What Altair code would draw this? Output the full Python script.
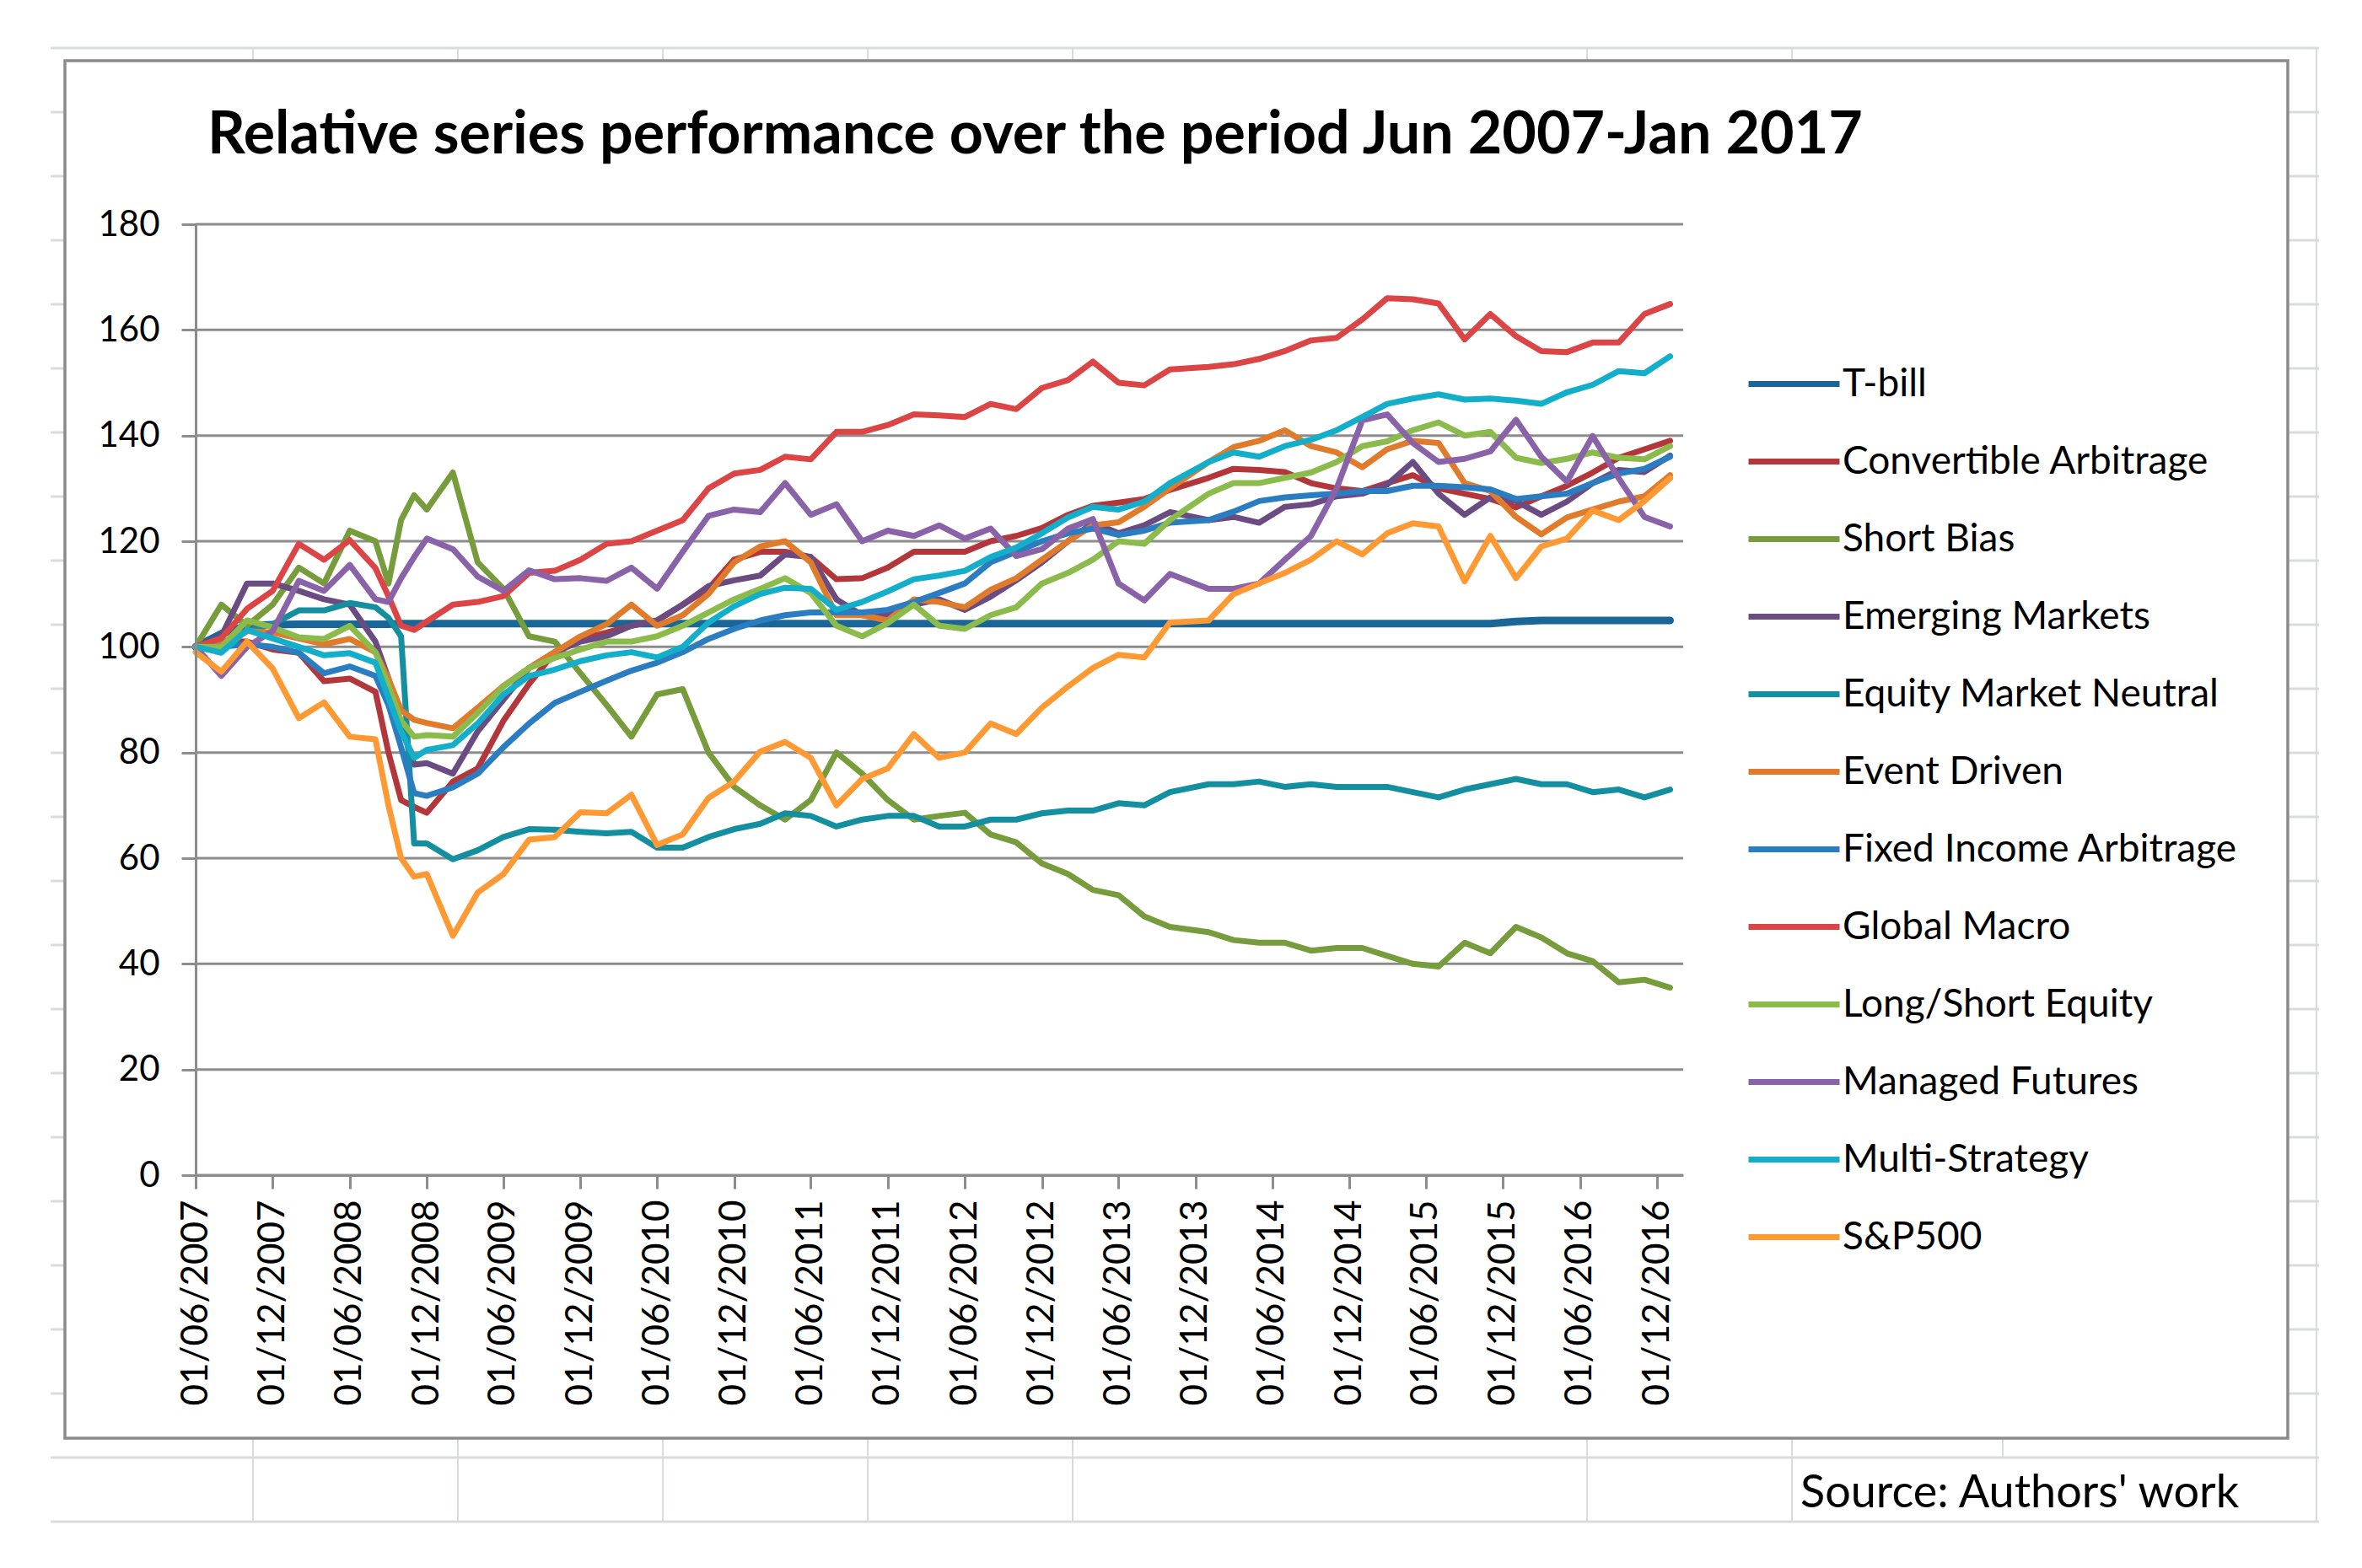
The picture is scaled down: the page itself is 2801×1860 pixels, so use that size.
import altair as alt
import pandas as pd

# ---------------- data ----------------
# month offsets since June 2007 (bi-monthly, with the Sep-Nov 2008 crash monthly)
months = [0, 2, 4, 6, 8, 10, 12, 14, 15, 16, 17, 18,
          20, 22, 24, 26, 28, 30, 32, 34, 36, 38,
          40, 42, 44, 46, 48, 50, 52, 54, 56, 58,
          60, 62, 64, 66, 68, 70, 72, 74, 76,
          79, 81, 83, 85, 87, 89, 91, 93, 95, 97, 99, 101, 103, 105, 107, 109, 111, 113, 115]

series_names = ["T-bill", "Convertible Arbitrage", "Short Bias", "Emerging Markets",
                "Equity Market Neutral", "Event Driven", "Fixed Income Arbitrage",
                "Global Macro", "Long/Short Equity", "Managed Futures",
                "Multi-Strategy", "S&P500"]

series_colors = ["#1B6699", "#B3373A", "#779C3C", "#6A4C83", "#138F9F", "#E07B2B",
                 "#2A7DC0", "#DC4545", "#8BBB4B", "#8A62A8", "#12AECA", "#FF9933"]

t_bill = [100, 102.5, 104, 104.2, 104.3, 104.3, 104.3, 104.3, 104.3, 104.4, 104.4, 104.4,
          104.4, 104.4, 104.4, 104.4, 104.4, 104.4, 104.4, 104.4, 104.4, 104.4,
          104.4, 104.4, 104.4, 104.4, 104.4, 104.4, 104.4, 104.4, 104.4, 104.4,
          104.4, 104.4, 104.4, 104.4, 104.4, 104.4, 104.4, 104.4, 104.4,
          104.4, 104.4, 104.4, 104.4, 104.4, 104.4, 104.4, 104.4, 104.4, 104.4, 104.4, 104.4,
          104.8, 105, 105, 105, 105, 105, 105]

convertible_arbitrage = [100, 101, 101, 99.5, 98.9, 93.5, 94, 91.5, 80, 71, 69.7, 68.6,
                         74.5, 77, 86, 93, 99, 101.5, 102.7, 104, 105, 108,
                         111, 116.5, 118, 118, 117, 112.8, 113, 115, 118, 118,
                         118, 120, 121, 122.5, 125, 126.7, 127.3, 128, 129.7,
                         132, 133.7, 133.5, 133.1, 131, 130, 129.5, 131, 132.5, 130, 129, 128,
                         126.4, 128.5, 130.5, 133, 135.8, 137.4, 139]

short_bias = [100, 108, 104, 108, 115, 112, 122, 120, 112, 124, 128.7, 126,
              133, 116, 111, 102, 101, 95, 89, 83, 91, 92,
              80, 73.5, 70, 67.3, 71, 80, 76, 71, 67.3, 68,
              68.6, 64.5, 63, 59, 57, 54, 53, 49, 47,
              46, 44.5, 44, 44, 42.5, 43, 43, 41.5, 40, 39.5, 44, 42,
              47, 45, 42, 40.5, 36.5, 37, 35.5]

emerging_markets = [100, 102, 112, 112, 110.6, 109, 108, 101, 94, 85, 77.7, 78,
                    76, 84, 90, 96, 99, 101, 102, 104, 105, 108,
                    111.5, 112.6, 113.5, 117.5, 117, 109, 106, 106, 108, 109,
                    107, 109.5, 112.6, 116, 120, 123.5, 121.5, 123, 125.5,
                    124, 124.6, 123.5, 126.5, 127, 128.5, 129, 130.7, 135, 129, 125, 128.3,
                    127.6, 125, 127.5, 131, 133.5, 133.1, 136.2]

equity_market_neutral = [100, 100.5, 103, 104.3, 106.9, 106.9, 108.3, 107.5, 105.5, 102, 62.8, 62.8,
                         59.8, 61.5, 64, 65.5, 65.4, 65, 64.7, 65, 62, 62,
                         64, 65.5, 66.5, 68.5, 68, 66, 67.3, 68, 68, 66,
                         66, 67.3, 67.3, 68.5, 69, 69, 70.4, 70, 72.5,
                         74, 74, 74.5, 73.5, 74, 73.5, 73.5, 73.5, 72.5, 71.5, 73, 74,
                         75, 74, 74, 72.5, 73, 71.5, 73]

event_driven = [100, 100.5, 103, 102.7, 101.6, 100.5, 101.5, 99, 94, 88, 86.2, 85.6,
                84.6, 88.5, 92.6, 96, 99, 102, 104.3, 108, 104, 106,
                110, 116, 119, 120, 116, 106, 106, 105, 109, 108.5,
                107.5, 110.8, 113, 116.5, 120, 123, 123.6, 126.5, 130,
                135, 137.8, 139, 141, 138, 136.8, 134, 137.4, 139, 138.6, 131, 129.5,
                124.6, 121.3, 124.5, 126, 127.5, 128.5, 132.5]

fixed_income_arbitrage = [100, 100, 100.5, 100, 98.9, 95, 96.3, 94.5, 89, 81, 72.3, 71.8,
                          73.4, 76, 81, 85.5, 89.4, 91.5, 93.6, 95.5, 97, 99,
                          101.5, 103.4, 105, 106, 106.5, 106.5, 106.5, 107, 108.5, 110.2,
                          112, 116, 118, 120, 121.5, 122.4, 121.2, 122, 123.5,
                          124, 125.6, 127.6, 128.3, 128.7, 129, 129.5, 129.5, 130.5, 130.5, 130.2, 129.8,
                          128, 128.5, 129, 131, 132.8, 133.7, 136]

global_macro = [100, 101.6, 107.2, 110.6, 119.5, 116.5, 120.2, 114.9, 109.6, 104, 103.2, 104.8,
                108, 108.5, 109.6, 114, 114.4, 116.5, 119.5, 120, 122, 124,
                130, 132.8, 133.5, 136, 135.5, 140.7, 140.7, 142, 144, 143.8,
                143.5, 146, 145, 149, 150.5, 154, 150, 149.5, 152.5,
                153, 153.5, 154.5, 156, 158, 158.5, 162, 166, 165.8, 165, 158.2, 163,
                158.8, 156, 155.8, 157.6, 157.6, 163, 164.9]

long_short_equity = [100, 100, 105, 103.7, 101.8, 101.5, 104, 99, 92.6, 86, 83, 83.3,
                     83, 87.5, 92.5, 96, 97.9, 99.5, 101, 101, 102, 104,
                     106.5, 109, 111, 113, 110.2, 104, 102, 104.5, 108, 104,
                     103.4, 106, 107.5, 112, 114, 116.5, 120, 119.5, 124,
                     129, 131, 131, 132, 133, 135, 138, 138.9, 141, 142.5, 140, 140.7,
                     135.8, 134.8, 135.6, 136.8, 135.8, 135.5, 138]

managed_futures = [100, 94.5, 100, 103, 112.5, 110.6, 115.5, 109, 108.5, 113, 117, 120.5,
                   118.5, 113.3, 110.6, 114.5, 112.8, 113, 112.5, 115, 111, 118,
                   124.8, 126, 125.5, 131, 125, 127, 120, 122, 121, 123,
                   120.5, 122.4, 117.2, 118.5, 122.4, 124.2, 112, 108.8, 113.8,
                   111, 111, 112, 116.5, 121, 130, 142.9, 144, 138.6, 135, 135.6, 137,
                   143, 136, 131.3, 139.9, 131.9, 124.6, 122.8]

multi_strategy = [100, 98.9, 103.2, 101.6, 100, 98.4, 98.8, 97, 90.4, 84, 79, 80.5,
                  81.4, 85.5, 91, 94.5, 95.7, 97.3, 98.4, 99, 98, 100,
                  104.6, 107.7, 110, 111.2, 111, 107, 108.5, 110.5, 112.8, 113.5,
                  114.4, 117, 118.8, 121.5, 124.5, 126.5, 126, 127.5, 131,
                  135, 136.8, 136, 138, 139.2, 141, 143.5, 146, 147, 147.8, 146.8, 147,
                  146.6, 146, 148.2, 149.6, 152.2, 151.8, 155]

sp500 = [99, 95.3, 101, 95.9, 86.5, 89.5, 83, 82.5, 70, 60, 56.5, 57,
         45.3, 53.5, 57, 63.5, 64, 68.7, 68.5, 72, 62.5, 64.5,
         71.4, 74.5, 80.2, 82, 79, 70, 75, 77, 83.5, 79,
         80, 85.5, 83.5, 88.5, 92.5, 96, 98.5, 98, 104.6,
         105, 110, 112, 114, 116.5, 120, 117.5, 121.5, 123.4, 122.8, 112.4, 121,
         113, 119, 120.5, 125.8, 124, 127.6, 131.9]

series_values = [t_bill, convertible_arbitrage, short_bias, emerging_markets,
                 equity_market_neutral, event_driven, fixed_income_arbitrage,
                 global_macro, long_short_equity, managed_futures, multi_strategy, sp500]

x_tick_dates = ["2007-06-01", "2007-12-01", "2008-06-01", "2008-12-01", "2009-06-01",
                "2009-12-01", "2010-06-01", "2010-12-01", "2011-06-01", "2011-12-01",
                "2012-06-01", "2012-12-01", "2013-06-01", "2013-12-01", "2014-06-01",
                "2014-12-01", "2015-06-01", "2015-12-01", "2016-06-01", "2016-12-01"]
y_ticks = [0, 20, 40, 60, 80, 100, 120, 140, 160, 180]

title_text = "Relative series performance over the period Jun 2007-Jan 2017"
source_text = "Source: Authors' work"

# ---------------- build table ----------------
for name, vals in zip(series_names, series_values):
    assert len(vals) == len(months), (name, len(vals))


def month_to_date(m):
    total = 5 + m  # June 2007 -> index 5
    return f"{2007 + total // 12:04d}-{total % 12 + 1:02d}-01"


rows = []
for name, vals in zip(series_names, series_values):
    for m, v in zip(months, vals):
        rows.append({"date": month_to_date(m), "series": name, "value": v})
df = pd.DataFrame(rows)

# ---------------- layout / style ----------------
W, H = 1764, 1128
FONT = "Lato"
AXIS_GREY = "#8C8C8C"
SHEET_GREY = "#D9DCDC"

# decorative worksheet cell lines (pixel positions relative to plot origin)
sheet_rows = pd.DataFrame({"py": [57 + 76 * k - 266 for k in range(24)]})
sheet_cols = pd.DataFrame({"px": [c - 232 for c in [300, 543, 786, 1029, 1272, 1882, 2125, 2747]]})
one = pd.DataFrame({"a": [0]})


def dt(s):
    return alt.DateTime(year=int(s[:4]), month=int(s[5:7]), date=1, utc=True)


x_scale = alt.Scale(type="utc", domain=[dt("2007-06-01"), dt("2017-02-01")])
y_scale = alt.Scale(domain=[0, 180], nice=False)

y_axis = alt.Axis(values=y_ticks, labelFontSize=42, labelFont=FONT, labelColor="black",
                  tickSize=17, tickWidth=3, tickColor=AXIS_GREY,
                  domainColor=AXIS_GREY, domainWidth=3, labelPadding=26,
                  grid=False, zindex=1)

rows_layer = alt.Chart(sheet_rows).mark_rule(color=SHEET_GREY, strokeWidth=3).encode(
    y=alt.Y("py:Q", scale=None, axis=None),
    x=alt.value(-172), x2=alt.value(2518))

cols_layer = alt.Chart(sheet_cols).mark_rule(color=SHEET_GREY, strokeWidth=2).encode(
    x=alt.X("px:Q", scale=None, axis=None),
    y=alt.value(-209), y2=alt.value(1538))

short_col = alt.Chart(one).mark_rule(color=SHEET_GREY, strokeWidth=2).encode(
    x=alt.value(2143), y=alt.value(1440), y2=alt.value(1462))

frame = alt.Chart(one).mark_rect(fill="white", stroke="#8B8B8B", strokeWidth=3.5).encode(
    x=alt.value(-155), x2=alt.value(2481), y=alt.value(-194), y2=alt.value(1440))

grid = alt.Chart(pd.DataFrame({"v": y_ticks})).mark_rule(color=AXIS_GREY, strokeWidth=3).encode(
    y=alt.Y("v:Q", title=None, scale=y_scale, axis=y_axis),
    x=alt.value(0), x2=alt.value(W))

lines = alt.Chart(df).mark_line(strokeJoin="round", strokeCap="round").encode(
    x=alt.X("date:T", title=None, scale=x_scale,
            axis=alt.Axis(values=[dt(s) for s in x_tick_dates], format="%d/%m/%Y",
                          labelAngle=270, labelFontSize=44, labelFont=FONT, labelColor="black",
                          tickSize=16, tickWidth=3, tickColor=AXIS_GREY,
                          domainColor=AXIS_GREY, domainWidth=3, labelPadding=13,
                          labelLimit=0, grid=False, zindex=1,
                          labelOverlap=False, labelFlush=False)),
    y=alt.Y("value:Q", title=None, scale=y_scale, axis=y_axis),
    color=alt.Color("series:N",
                    scale=alt.Scale(domain=series_names, range=series_colors),
                    legend=alt.Legend(title=None, orient="none", legendX=1838, legendY=132,
                                      direction="vertical", symbolType="stroke",
                                      symbolSize=11664, symbolStrokeWidth=7,
                                      labelFontSize=46, labelFont=FONT, labelColor="black",
                                      labelOffset=0, rowPadding=11, labelLimit=0,
                                      zindex=1)),
    strokeWidth=alt.condition(alt.datum.series == "T-bill", alt.value(9), alt.value(7)),
    detail="series:N")

source = alt.Chart(one).mark_text(font=FONT, fontSize=54, align="left",
                                  baseline="alphabetic", color="black").encode(
    x=alt.value(1903), y=alt.value(1522), text=alt.value(source_text))

chart = alt.layer(rows_layer, cols_layer, short_col, frame, grid, lines, source).properties(
    width=W, height=H,
    title=alt.TitleParams(text=title_text, anchor="start", frame="group", dx=14, offset=-196,
                          fontSize=70, font=FONT, fontWeight="bold", color="black",
                          baseline="alphabetic", zindex=1),
    autosize=alt.AutoSizeParams(type="none"),
    padding={"left": 224, "top": 258, "right": 797, "bottom": 458},
).configure_view(stroke=None).configure(background="white")

chart.save("out.html", embed_options={"renderer": "svg", "actions": False})
